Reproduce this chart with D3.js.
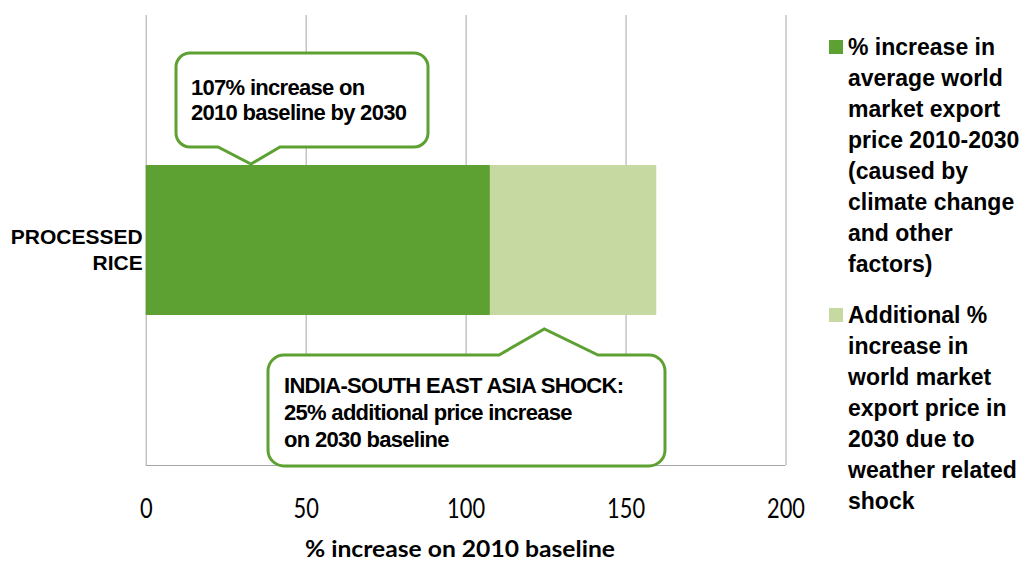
<!DOCTYPE html>
<html><head><meta charset="utf-8">
<script src="https://cdn.jsdelivr.net/npm/d3@7"></script>
<style>body{margin:0;background:#fff}svg{display:block}</style>
</head><body><svg id="c" width="1027" height="561"></svg>
<script>
// ---- data ----
const categories = ["PROCESSED RICE"];
const baseIncrease = [107.6];   // % increase 2010-2030
const shockIncrease = [52.0];   // additional % from weather shock
const xTicks = [0, 50, 100, 150, 200];
const seriesKeys = ["base", "shock"];
const legendLines = [
  ["% increase in", "average world", "market export", "price 2010-2030", "(caused by", "climate change", "and other", "factors)"],
  ["Additional %", "increase in", "world market", "export price in", "2030 due to", "weather related", "shock"]
];
const callout1Lines = ["107% increase on", "2010 baseline by 2030"];
const callout2Lines = ["INDIA-SOUTH EAST ASIA SHOCK:", "25% additional price increase", "on 2030 baseline"];
const xTitle = "% increase on 2010 baseline";

// ---- styles ----
const colors = {base: "#5ea133", shock: "#c5d9a0"};
const gridColor = "#a6a6a6";
const svg = d3.select("#c");
const plot = {left: 145.7, right: 785.5, top: 15, bottom: 465};

const x = d3.scaleLinear().domain([0, 200]).range([plot.left, plot.right]);
const y = d3.scaleBand().domain(categories).range([plot.top, plot.bottom]).paddingInner(0.5).paddingOuter(0.5);

// grid + ticks
const axis = svg.append("g").attr("transform", `translate(0,${plot.bottom})`)
  .call(d3.axisBottom(x).tickValues(xTicks).tickSize(-(plot.bottom - plot.top)).tickFormat(d3.format("d")));
axis.select(".domain").remove();
axis.selectAll(".tick line").attr("stroke", gridColor).attr("stroke-width", 1);
axis.selectAll(".tick text")
  .attr("y", 53).attr("dy", 0)
  .attr("fill", "#000")
  .style("font-family", "Lato, 'Open Sans', sans-serif")
  .style("font-size", "26px")
  .attr("transform", "scale(0.84,1)");
svg.append("line").attr("x1", plot.left).attr("x2", plot.right)
  .attr("y1", plot.bottom + 0.5).attr("y2", plot.bottom + 0.5)
  .attr("stroke", gridColor).attr("stroke-width", 1);

// bars
const table = categories.map((c, i) => ({cat: c, base: baseIncrease[i], shock: shockIncrease[i]}));
const stack = d3.stack().keys(seriesKeys)(table);
svg.append("g").selectAll("g").data(stack).join("g")
  .attr("fill", d => colors[d.key])
  .selectAll("rect").data(d => d).join("rect")
  .attr("x", d => x(d[0]))
  .attr("width", d => x(d[1]) - x(d[0]))
  .attr("y", d => y(d.data.cat))
  .attr("height", y.bandwidth());

// category label
const catLines = ["PROCESSED", "RICE"];
svg.append("text")
  .attr("text-anchor", "end")
  .style("font-family", "'Liberation Sans', Arial, sans-serif")
  .style("font-weight", "bold").style("font-size", "21px")
  .selectAll("tspan").data(catLines).join("tspan")
  .attr("x", plot.left - 3)
  .attr("y", (d, i) => y(categories[0]) + y.bandwidth() / 2 + 4 + i * 26)
  .text(d => d);

// callouts
function calloutPath(b, p) {
  const {x0, y0, x1, y1, r} = b;
  if (p.side === "bottom") {
    return `M${x0 + r},${y0} H${x1 - r} A${r},${r} 0 0 1 ${x1},${y0 + r} V${y1 - r} A${r},${r} 0 0 1 ${x1 - r},${y1}` +
      ` H${p.b} L${p.tx},${p.ty} L${p.a},${y1} H${x0 + r} A${r},${r} 0 0 1 ${x0},${y1 - r} V${y0 + r} A${r},${r} 0 0 1 ${x0 + r},${y0} Z`;
  }
  return `M${x0 + r},${y0} H${p.a} L${p.tx},${p.ty} L${p.b},${y0} H${x1 - r} A${r},${r} 0 0 1 ${x1},${y0 + r} V${y1 - r} A${r},${r} 0 0 1 ${x1 - r},${y1}` +
    ` H${x0 + r} A${r},${r} 0 0 1 ${x0},${y1 - r} V${y0 + r} A${r},${r} 0 0 1 ${x0 + r},${y0} Z`;
}
const barTop = y(categories[0]), barBot = barTop + y.bandwidth();
const callouts = [
  {box: {x0: 176, y0: 53, x1: 428, y1: 147, r: 14},
   ptr: {side: "bottom", a: 218, b: 280, tx: x(32.9), ty: barTop - 1},
   lines: callout1Lines, tx: 191, ty: 95, lh: 25},
  {box: {x0: 268, y0: 355, x1: 665, y1: 466, r: 16},
   ptr: {side: "top", a: 499, b: 598, tx: x(124.6), ty: barBot + 14},
   lines: callout2Lines, tx: 284, ty: 393, lh: 27}
];
callouts.forEach(c => {
  svg.append("path").attr("d", calloutPath(c.box, c.ptr))
    .attr("fill", "#fff").attr("stroke", colors.base).attr("stroke-width", 3).attr("stroke-linejoin", "miter");
  svg.append("text")
    .style("font-family", "'Liberation Sans', Arial, sans-serif")
    .style("font-weight", "bold").style("font-size", "22px").style("letter-spacing", "-0.7px")
    .selectAll("tspan").data(c.lines).join("tspan")
    .attr("x", c.tx).attr("y", (d, i) => c.ty + i * c.lh).text(d => d);
});

// x axis title
svg.append("text").attr("x", 305).attr("y", 557)
  .attr("textLength", 310).attr("lengthAdjust", "spacingAndGlyphs")
  .style("font-family", "Lato, 'Open Sans', sans-serif")
  .style("font-weight", "bold").style("font-size", "23.5px")
  .text(xTitle);

// legend
const lg = svg.append("g");
let base = 55;
legendLines.forEach((lines, gi) => {
  lg.append("rect").attr("x", 829).attr("y", base - 15).attr("width", 14).attr("height", 14)
    .attr("fill", colors[seriesKeys[gi]]);
  lg.append("text")
    .style("font-family", "'Liberation Sans', Arial, sans-serif")
    .style("font-weight", "bold").style("font-size", "23px")
    .selectAll("tspan").data(lines).join("tspan")
    .attr("x", 848).attr("y", (d, i) => base + i * 31).text(d => d);
  base += lines.length * 31 + 20;
});
</script></body></html>
